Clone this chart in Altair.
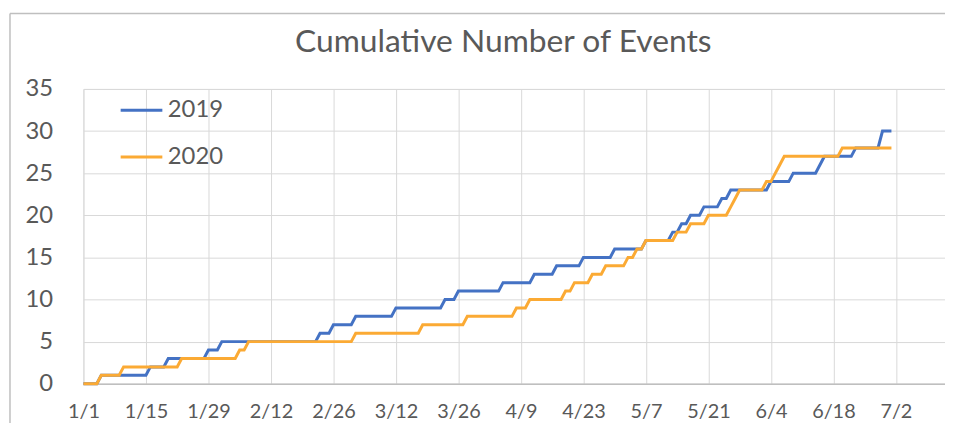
import json
import altair as alt
import pandas as pd

# ---- data (month/day when the running count rises by one) ----
series_names = ["2019", "2020"]
events_2019 = ["1/5", "1/16", "1/20", "1/29", "2/1", "2/23", "2/26", "3/3", "3/12",
               "3/23", "3/26", "4/5", "4/12", "4/17", "4/23", "4/30", "5/7", "5/13",
               "5/15", "5/17", "5/20", "5/24", "5/26", "6/4", "6/9", "6/15", "6/16",
               "6/23", "6/29", "6/29"]
events_2020 = ["1/5", "1/10", "1/23", "2/5", "2/7", "3/3", "3/18", "3/28", "4/8",
               "4/11", "4/19", "4/21", "4/25", "4/28", "5/3", "5/5", "5/7", "5/14",
               "5/17", "5/21", "5/26", "5/27", "5/28", "6/3", "6/5", "6/6", "6/7",
               "6/20"]
first_day = "1/1"
last_day = "7/1"
x_tick_labels = ["1/1", "1/15", "1/29", "2/12", "2/26", "3/12", "3/26", "4/9",
                 "4/23", "5/7", "5/21", "6/4", "6/18", "7/2"]
y_ticks = [0, 5, 10, 15, 20, 25, 30, 35]
colors = ["#4472C4", "#FBAA34"]
title_text = "Cumulative Number of Events"


def day_index(md):
    m, d = md.split("/")
    return pd.Timestamp(year=2019, month=int(m), day=int(d)).dayofyear - 1


rows = []
for name, evs in zip(series_names, [events_2019, events_2020]):
    ev_days = [day_index(s) for s in evs]
    for day in range(day_index(first_day), day_index(last_day) + 1):
        rows.append({"day": day, "count": sum(e <= day for e in ev_days), "series": name})
df = pd.DataFrame(rows)

tick_step = day_index(x_tick_labels[1]) - day_index(x_tick_labels[0])
x_values = [day_index(first_day) + i * tick_step for i in range(len(x_tick_labels))]
label_expr = json.dumps(x_tick_labels) + f"[round(datum.value/{tick_step})]"

FONT = "Lato"
TXT = "#595959"

lines = alt.Chart(df).mark_line(strokeWidth=3).encode(
    x=alt.X("day:Q",
            scale=alt.Scale(domain=[0, 193], nice=False, zero=False),
            axis=alt.Axis(values=x_values, labelExpr=label_expr, title=None,
                          grid=True, gridColor="#D9D9D9", ticks=False, tickSize=0,
                          domainColor="#BFBFBF", domainWidth=1.5,
                          labelFont=FONT, labelFontSize=20, labelColor=TXT,
                          labelPadding=18, labelFlush=False, labelOverlap=False)),
    y=alt.Y("count:Q",
            scale=alt.Scale(domain=[0, 35], nice=False),
            axis=alt.Axis(values=y_ticks, title=None, domain=False, ticks=False,
                          tickSize=0, grid=True, gridColor="#D9D9D9",
                          labelFont=FONT, labelFontSize=24, labelColor=TXT,
                          labelPadding=31)),
    color=alt.Color("series:N",
                    scale=alt.Scale(domain=series_names, range=colors),
                    legend=alt.Legend(orient="none", legendX=36, legendY=-1,
                                      title=None, symbolType="stroke",
                                      symbolSize=1764, symbolStrokeWidth=3,
                                      labelFont=FONT, labelFontSize=24,
                                      labelColor=TXT, labelOffset=4,
                                      rowPadding=12, padding=0)),
)

title_df = pd.DataFrame({"t": [title_text]})
title_mark = alt.Chart(title_df).mark_text(
    font=FONT, fontSize=32, color=TXT, align="center", baseline="alphabetic"
).encode(x=alt.value(423), y=alt.value(-37), text="t:N")

frame_df = pd.DataFrame({"k": [0]})
frame_left = alt.Chart(frame_df).mark_rule(color="#BFBFBF", strokeWidth=1.5).encode(
    x=alt.value(-74), y=alt.value(-76), y2=alt.value(400))
frame_top = alt.Chart(frame_df).mark_rule(color="#BFBFBF", strokeWidth=1.5).encode(
    x=alt.value(-74), x2=alt.value(900), y=alt.value(-76))

chart = alt.layer(frame_left, frame_top, title_mark, lines).properties(
    width=868,
    height=297,
    autosize=alt.AutoSizeParams(type="none"),
    padding={"left": 76, "top": 80, "right": 0, "bottom": 38},
).configure_view(stroke=None).configure(background="white")

chart.save("out.html", embed_options={"renderer": "svg", "actions": False})
